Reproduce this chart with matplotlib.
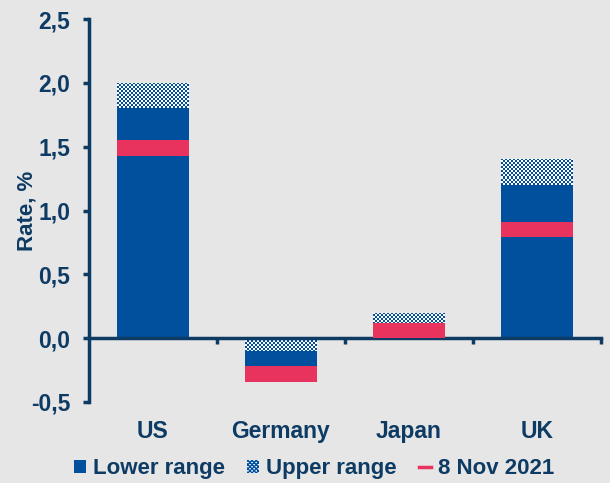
import matplotlib
matplotlib.use("Agg")
import matplotlib.pyplot as plt
import numpy as np
from matplotlib.patches import Patch
from matplotlib.lines import Line2D
from matplotlib.colors import ListedColormap
from matplotlib.transforms import blended_transform_factory

countries = ["US", "Germany", "Japan", "UK"]
# solid "lower range" segment: base and height
lower_base = [0.0, -0.1, 0.0, 0.0]
lower_height = [1.8, -0.2, 0.1, 1.2]
# checkered "upper range" segment: base and height
upper_base = [1.8, 0.0, 0.1, 1.2]
upper_height = [0.2, -0.1, 0.1, 0.2]
nov8 = [1.49, -0.28, 0.06, 0.85]
yticks = [-0.5, 0.0, 0.5, 1.0, 1.5, 2.0, 2.5]
ytick_labels = ["-0,5", "0,0", "0,5", "1,0", "1,5", "2,0", "2,5"]

BG = "#E6E6E6"
NAVY = "#0E3B63"
BLUE = "#00509E"
RED = "#E8335F"

plt.rcParams["font.family"] = ["Liberation Sans", "DejaVu Sans"]
plt.rcParams["font.weight"] = "bold"
plt.rcParams["hatch.linewidth"] = 1.0
plt.rcParams["hatch.color"] = BLUE

fig = plt.figure(figsize=(6.1, 4.83), dpi=100, facecolor=BG)
ax = fig.add_axes([89/610, 1-402/483, 512/610, 383/483])
ax.set_facecolor(BG)

x = list(range(len(countries)))
w = 0.555
ax.bar(x, lower_height, bottom=lower_base, width=w, color=BLUE, zorder=2)
ub = ax.bar(x, upper_height, bottom=upper_base, width=w, facecolor="white",
            linewidth=0, zorder=2)

# fine checkerboard texture clipped to each upper-range bar
xl, yl = (-0.5, 3.5), (-0.5, 2.5)
nx, ny = 256, 192
ii, jj = np.indices((ny, nx))
board = ((ii + jj) % 2).astype(float)
cmap = ListedColormap(["white", BLUE])
for p in ub.patches:
    im = ax.imshow(board, cmap=cmap, extent=(xl[0], xl[1], yl[0], yl[1]),
                   interpolation="nearest", aspect="auto", zorder=2.5,
                   origin="lower")
    im.set_clip_path(p)

mh = 0.12
ax.bar(x, [mh]*len(x), bottom=[v - mh/2 for v in nov8], width=0.57,
       color=RED, zorder=3)

ax.set_xlim(*xl)
ax.set_ylim(*yl)
ax.set_yticks(yticks)
ax.set_yticklabels(ytick_labels)
ax.tick_params(axis="y", direction="out", length=4.5, width=2.5, color=NAVY,
               labelsize=16.5, labelcolor=NAVY, pad=9)
for s in ["top", "right"]:
    ax.spines[s].set_visible(False)
ax.spines["left"].set_color(NAVY)
ax.spines["left"].set_linewidth(2.5)
ax.spines["bottom"].set_position(("data", 0))
ax.spines["bottom"].set_color(NAVY)
ax.spines["bottom"].set_linewidth(2.5)
ax.set_xticks([0.5, 1.5, 2.5, 3.5])
ax.set_xticklabels([])
ax.tick_params(axis="x", direction="out", length=4.5, width=2.5, color=NAVY)

tr = blended_transform_factory(ax.transData, ax.transAxes)
for xi, c in zip(x, countries):
    ax.text(xi, -0.078, c, transform=tr, ha="center", va="center",
            fontsize=16.5, color=NAVY, fontweight="bold")

ax.set_ylabel("Rate, %", fontsize=16, color=NAVY, fontweight="bold")
ax.yaxis.set_label_coords(-0.10, 0.5)

handles = [
    Patch(facecolor=BLUE, edgecolor=BLUE, linewidth=0),
    Patch(facecolor="white", edgecolor=BLUE, hatch="xxxxxxxx", linewidth=0),
    Line2D([0], [0], color=RED, lw=2.5),
]
labels = ["Lower range", "Upper range", "8 Nov 2021"]
leg = fig.legend(handles, labels, loc="center", bbox_to_anchor=(0.515, 0.029),
                 ncol=3, frameon=False, fontsize=16, handlelength=0.55,
                 handleheight=0.55, handletextpad=0.3, columnspacing=1.0)
for t in leg.get_texts():
    t.set_color(NAVY)

fig.savefig("out.png", dpi=100, facecolor=BG)
